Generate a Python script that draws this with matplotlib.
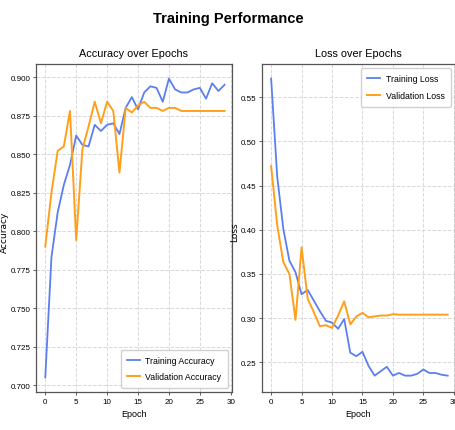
import matplotlib
matplotlib.use("Agg")
import matplotlib.pyplot as plt

plt.rcParams['font.family'] = ['Liberation Sans', 'DejaVu Sans']

epochs = list(range(30))
train_acc = [0.705, 0.783, 0.812, 0.830, 0.843, 0.862, 0.856, 0.855, 0.869, 0.865,
             0.869, 0.870, 0.863, 0.880, 0.887, 0.879, 0.890, 0.894, 0.893, 0.884,
             0.899, 0.892, 0.890, 0.890, 0.892, 0.893, 0.886, 0.896, 0.891, 0.895]
val_acc = [0.790, 0.825, 0.852, 0.855, 0.878, 0.794, 0.853, 0.868, 0.884, 0.870,
           0.884, 0.878, 0.838, 0.880, 0.877, 0.8815, 0.884, 0.880, 0.880, 0.878,
           0.880, 0.880, 0.878, 0.878, 0.878, 0.878, 0.878, 0.878, 0.878, 0.878]
train_loss = [0.571, 0.460, 0.401, 0.365, 0.352, 0.327, 0.332, 0.320, 0.308, 0.297,
              0.295, 0.288, 0.299, 0.261, 0.257, 0.262, 0.246, 0.235, 0.240, 0.245,
              0.235, 0.238, 0.235, 0.235, 0.237, 0.242, 0.238, 0.238, 0.236, 0.235]
val_loss = [0.472, 0.405, 0.3635, 0.350, 0.298, 0.380, 0.322, 0.307, 0.291, 0.292,
            0.289, 0.303, 0.319, 0.293, 0.302, 0.306, 0.301, 0.302, 0.303, 0.303,
            0.3045, 0.304, 0.304, 0.304, 0.304, 0.304, 0.304, 0.304, 0.304, 0.304]

blue = '#5b7ff0'
orange = '#ff9f1c'

fig = plt.figure(figsize=(4.56, 4.31), dpi=100)
fig.suptitle('Training Performance', fontsize=10.5, fontweight='bold', y=0.972)

ax1 = fig.add_axes([36/456, 1 - 393/431, 196/456, 328/431])
ax2 = fig.add_axes([262/456, 1 - 393/431, 193/456, 328/431])

for ax in (ax1, ax2):
    ax.grid(True, linestyle='--', color='#d8d8d8', linewidth=0.7)
    ax.set_axisbelow(True)
    ax.tick_params(labelsize=5.8, length=2.5, width=0.6, pad=1.5, color='#444444')
    for s in ax.spines.values():
        s.set_color('#555555')
        s.set_linewidth(0.9)
    ax.set_xlim(-1.5, 30.2)
    ax.set_xticks([0, 5, 10, 15, 20, 25, 30])
    ax.set_xlabel('Epoch', fontsize=6.5, labelpad=3)

leg_kw = dict(fontsize=6.3, framealpha=0.9, edgecolor='#cccccc', handlelength=1.5,
              labelspacing=0.9, borderpad=0.7, handletextpad=0.6)

ax1.plot(epochs, train_acc, color=blue, lw=1.3, label='Training Accuracy')
ax1.plot(epochs, val_acc, color=orange, lw=1.4, label='Validation Accuracy')
ax1.set_title('Accuracy over Epochs', fontsize=7.8, pad=6)
ax1.set_ylabel('Accuracy', fontsize=6.5, family=['DejaVu Sans'])
ax1.yaxis.set_label_coords(-0.138, 0.49)
ax1.set_ylim(0.6955, 0.9085)
ax1.set_yticks([0.700, 0.725, 0.750, 0.775, 0.800, 0.825, 0.850, 0.875, 0.900])
ax1.legend(loc='lower right', **leg_kw)

ax2.plot(epochs, train_loss, color=blue, lw=1.3, label='Training Loss')
ax2.plot(epochs, val_loss, color=orange, lw=1.4, label='Validation Loss')
ax2.set_title('Loss over Epochs', fontsize=7.8, pad=6)
ax2.set_ylabel('Loss', fontsize=6.5, family=['DejaVu Sans'])
ax2.yaxis.set_label_coords(-0.12, 0.49)
ax2.set_ylim(0.2165, 0.5875)
ax2.set_yticks([0.25, 0.30, 0.35, 0.40, 0.45, 0.50, 0.55])
ax2.legend(loc='upper right', **leg_kw)

fig.savefig('out.png', dpi=100)
